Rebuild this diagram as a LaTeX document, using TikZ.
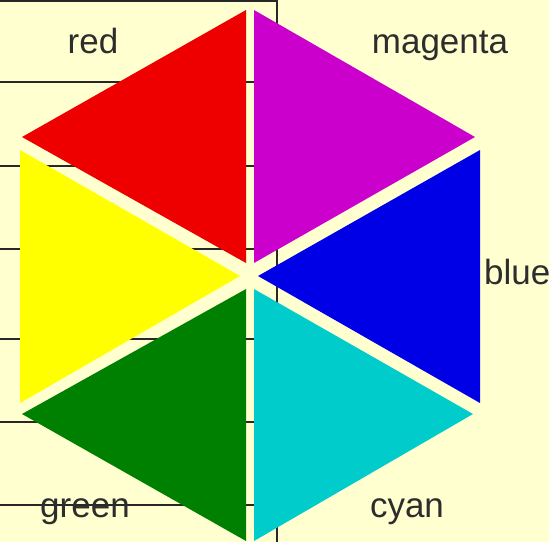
\documentclass[tikz,border=0pt]{standalone}
\usepackage{fontspec}
\setmainfont{Liberation Sans}
\usetikzlibrary{calc}
\definecolor{paper}{RGB}{255,255,208}
\definecolor{rulegray}{RGB}{40,40,40}
\definecolor{labelgray}{RGB}{45,45,45}
\definecolor{hexred}{RGB}{238,0,0}
\definecolor{hexmagenta}{RGB}{204,0,204}
\definecolor{hexyellow}{RGB}{255,255,0}
\definecolor{hexblue}{RGB}{0,0,230}
\definecolor{hexgreen}{RGB}{0,128,0}
\definecolor{hexcyan}{RGB}{0,204,204}

\begin{document}
\begin{tikzpicture}[x=1pt, y=-1pt,
	rule/.style={draw=rulegray, line width=1.2pt},
	lbl/.style={text=labelgray, inner sep=0pt, font=\fontsize{35}{35}\selectfont}]
			
			\fill[paper] (0,0) rectangle (549,542);
			\useasboundingbox (0,0) rectangle (549,542);
			
			% table rules behind the hexagon
			\foreach \y in {1,82,166,249,339,422,505}
				\draw[rule] (0,\y) -- (277,\y);
			\draw[rule] (277,0) -- (277,542);
			
			\coordinate (R1) at (246,10);
			\coordinate (R2) at (22,137);
			\coordinate (R3) at (246,263);
			
			\coordinate (M1) at (254,10);
			\coordinate (M2) at (475,137);
			\coordinate (M3) at (254,263);
			
			\coordinate (Y1) at (20,150);
			\coordinate (Y2) at (20,403);
			\coordinate (Y3) at (240,276);
			
			\coordinate (B1) at (480,150);
			\coordinate (B2) at (480,403);
			\coordinate (B3) at (258,276);
			
			\coordinate (G1) at (246,289);
			\coordinate (G2) at (22,414);
			\coordinate (G3) at (246,541);
			
			\coordinate (C1) at (254,289);
			\coordinate (C2) at (473,414);
			\coordinate (C3) at (254,541);
			
			\fill[hexred] (R1) -- (R2) -- (R3) -- cycle;
			\fill[hexmagenta] (M1) -- (M2) -- (M3) -- cycle;
			\fill[hexyellow] (Y1) -- (Y2) -- (Y3) -- cycle;
			\fill[hexblue] (B1) -- (B2) -- (B3) -- cycle;
			\fill[hexgreen] (G1) -- (G2) -- (G3) -- cycle;
			\fill[hexcyan] (C1) -- (C2) -- (C3) -- cycle;
			
			\node[lbl, anchor=base] (red) at (93,53) {red};
			\node[lbl, anchor=base] (magenta) at (440,53) {magenta};
			\node[lbl, anchor=base west] (blue) at (484,284) {blue};
			\node[lbl, anchor=base] (green) at (85,517) {green};
			\node[lbl, anchor=base] (cyan) at (407,517) {cyan};
			
		\end{tikzpicture}
\end{document}
